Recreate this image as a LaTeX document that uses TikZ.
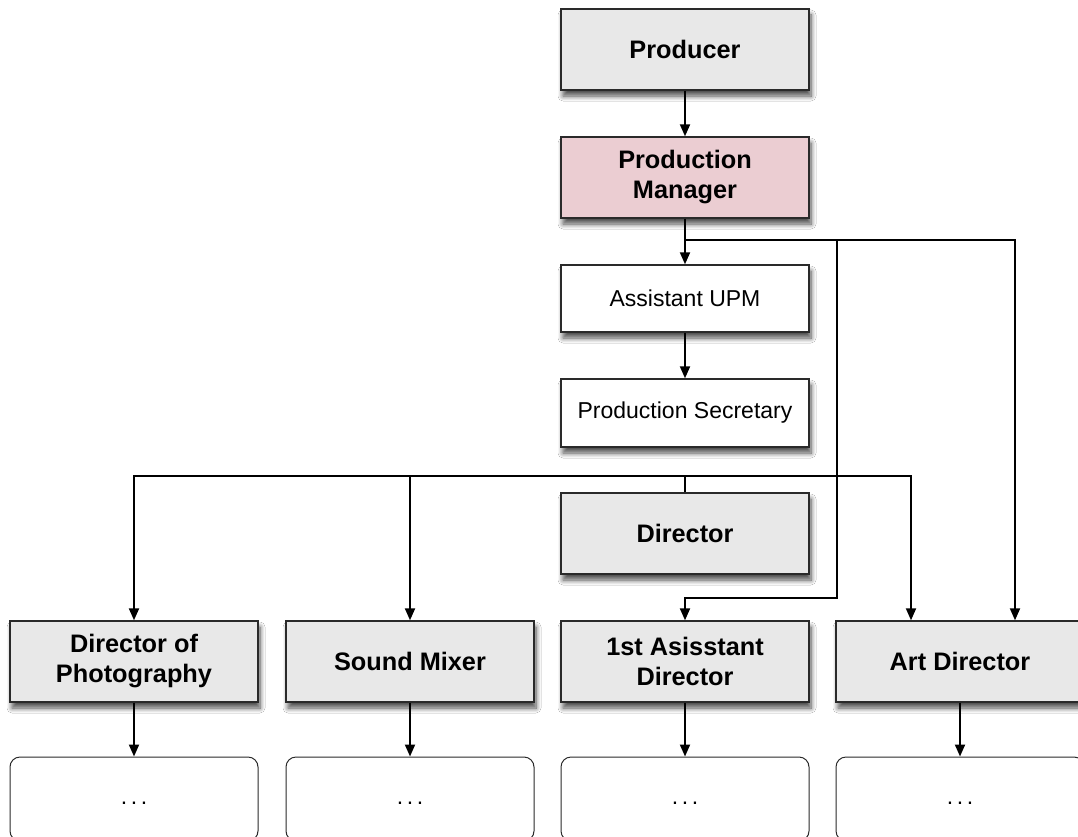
\documentclass[tikz,border=0pt]{standalone}
\usepackage{fontspec}
\setmainfont{Liberation Sans}
\usetikzlibrary{arrows.meta,shadows.blur,calc}
\definecolor{boxgray}{HTML}{E8E8E8}
\definecolor{boxpink}{HTML}{EBCDD2}
\definecolor{edge}{HTML}{2A2A2A}
\tikzset{
  base/.style={rectangle, draw=edge, line width=1.4pt, minimum width=248pt,
    align=center, font=\fontsize{23}{28}\selectfont,
    blur shadow={shadow xshift=2pt, shadow yshift=-6pt, shadow blur radius=5pt,
      shadow blur steps=8, shadow opacity=70}},
  rolebox/.style={base, fill=boxgray, minimum height=81pt, font=\fontsize{25.3}{30}\selectfont\bfseries},
  keybox/.style={base, fill=boxpink, minimum height=81pt, font=\fontsize{25.3}{30}\selectfont\bfseries},
  staffbox/.style={base, fill=white, minimum height=67pt},
  morebox/.style={rectangle, rounded corners=10pt, draw=edge, line width=1pt, fill=white,
    minimum width=248pt, minimum height=84pt, font=\fontsize{23}{28}\selectfont},
  arr/.style={line width=2pt, -{Triangle[length=12pt,width=10pt]}},
  link/.style={line width=2pt}
}
\newcommand{\moredots}{.\hspace{3.6pt}.\hspace{3.6pt}.}
\begin{document}
\begin{tikzpicture}[x=1pt,y=-1pt]
\useasboundingbox (0,0) rectangle (1078,837);
\fill[white] (0,0) rectangle (1078,837);

% management chain
\node[rolebox] (prod) at (685,49.5) {Producer};
\node[keybox] (pm) at (685,177.5) {Production\\Manager};
\node[staffbox] (aupm) at (685,298.5) {Assistant UPM};
\node[staffbox, minimum height=68pt] (sec) at (685,413) {Production Secretary};
\node[rolebox] (dir) at (685,533.5) {Director};

% department heads
\node[rolebox] (dop) at (134,661.5) {Director of\\Photography};
\node[rolebox] (snd) at (410,661.5) {Sound Mixer};
\node[rolebox] (ad1) at (685,661.5) {1st Asisstant\\Director};
\node[rolebox] (art) at (960,661.5) {Art Director};

% crews below each head
\node[morebox, text depth=0pt, text height=3pt] (dopc) at (134,799) {\raisebox{-4pt}{\moredots}};
\node[morebox, text depth=0pt, text height=3pt] (sndc) at (410,799) {\raisebox{-4pt}{\moredots}};
\node[morebox, text depth=0pt, text height=3pt] (ad1c) at (685,799) {\raisebox{-4pt}{\moredots}};
\node[morebox, text depth=0pt, text height=3pt] (artc) at (960,799) {\raisebox{-4pt}{\moredots}};

% junction points
\coordinate (pmbus) at (685,240);
\coordinate (adrop) at (837,240);
\coordinate (adturn) at (837,598);
\coordinate (artright) at (1015,240);
\coordinate (dirbus) at (685,476);
\coordinate (artleft) at (911,476);

% connectors
\draw[arr] (prod.south) -- (pm.north);
\draw[arr] (pm.south) -- (aupm.north);
\draw[arr] (pmbus) -- (artright) -- (artright |- art.north);
\draw[arr] (adrop) -- (adturn) -| (ad1.north);
\draw[arr] (aupm.south) -- (sec.north);
\draw[link] (dir.north) -- (dirbus);
\draw[arr] (dirbus) -| (dop.north);
\draw[arr] (dirbus -| snd.north) -- (snd.north);
\draw[arr] (dirbus) -- (artleft) -- (artleft |- art.north);

\draw[arr] (dop.south) -- (dopc.north);
\draw[arr] (snd.south) -- (sndc.north);
\draw[arr] (ad1.south) -- (ad1c.north);
\draw[arr] (art.south) -- (artc.north);
\end{tikzpicture}
\end{document}
